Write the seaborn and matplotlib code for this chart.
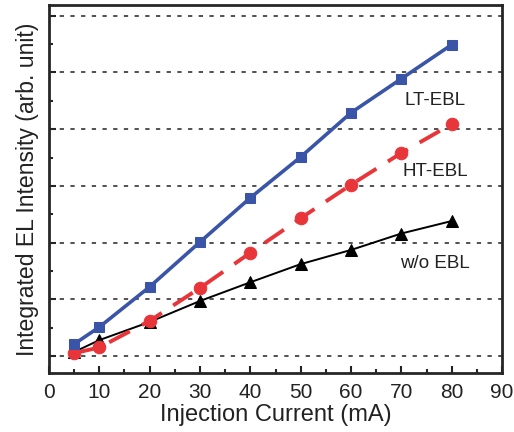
import matplotlib
matplotlib.use("Agg")
import matplotlib.pyplot as plt
from matplotlib.ticker import MultipleLocator, NullFormatter
import seaborn as sns
import pandas as pd

current = [5, 10, 20, 30, 40, 50, 60, 70, 80]
lt_ebl = [0.21, 0.51, 1.22, 2.01, 2.79, 3.51, 4.29, 4.89, 5.49]
ht_ebl = [0.05, 0.15, 0.62, 1.20, 1.82, 2.43, 3.02, 3.58, 4.09]
wo_ebl = [0.07, 0.28, 0.60, 0.97, 1.30, 1.62, 1.87, 2.16, 2.38]

series_names = ["LT-EBL", "HT-EBL", "w/o EBL"]
label_y = [4.5, 3.25, 1.63]

sns.set_style("ticks")
plt.rcParams["font.family"] = ["Liberation Sans", "DejaVu Sans"]

fig = plt.figure(figsize=(5.14, 4.32), dpi=100)
ax = fig.add_axes([0.0953, 0.1366, 0.8814, 0.8518])

df = pd.DataFrame({"current": current, "LT-EBL": lt_ebl,
                   "HT-EBL": ht_ebl, "w/o EBL": wo_ebl})

# horizontal dashed reference lines at each major y tick
for yv in range(0, 7):
    ax.axhline(yv, color="#222222", lw=1.1, ls=(0, (2.8, 4.2)), zorder=0)

sns.lineplot(data=df, x="current", y="w/o EBL", ax=ax, color="black",
             lw=1.4, marker="^", markersize=9, markeredgecolor="black",
             zorder=3)
sns.lineplot(data=df, x="current", y="HT-EBL", ax=ax, color="#e8353a",
             lw=2.8, marker="o", markersize=9, markeredgecolor="#e8353a",
             zorder=4, dashes=False, linestyle=(0, (6, 3.5)))
sns.lineplot(data=df, x="current", y="LT-EBL", ax=ax, color="#3a55a8",
             lw=2.6, marker="s", markersize=7.5, markeredgecolor="#3a55a8",
             zorder=5)

for name, yy in zip(series_names, label_y):
    ax.text(76.7, yy, name, fontsize=13.5, color="#222222",
            ha="center", va="center")

ax.set_xlim(0, 90)
ax.set_ylim(-0.3, 6.19)
ax.xaxis.set_major_locator(MultipleLocator(10))
ax.xaxis.set_minor_locator(MultipleLocator(5))
ax.yaxis.set_major_locator(MultipleLocator(1))
ax.yaxis.set_minor_locator(MultipleLocator(0.5))
ax.yaxis.set_major_formatter(NullFormatter())
ax.tick_params(axis="both", which="both", direction="in",
               top=False, right=False, width=1.5)
ax.tick_params(axis="both", which="major", length=5)
ax.tick_params(axis="both", which="minor", length=3)
ax.tick_params(axis="x", labelsize=15, pad=7, colors="#222222")
for sp in ax.spines.values():
    sp.set_linewidth(2)
    sp.set_visible(True)

ax.set_xlabel("Injection Current (mA)", fontsize=17, color="#222222",
              labelpad=2)
ax.set_ylabel("Integrated EL Intensity (arb. unit)", fontsize=16.6,
              color="#222222", labelpad=4)

fig.savefig("out.png", dpi=100)
